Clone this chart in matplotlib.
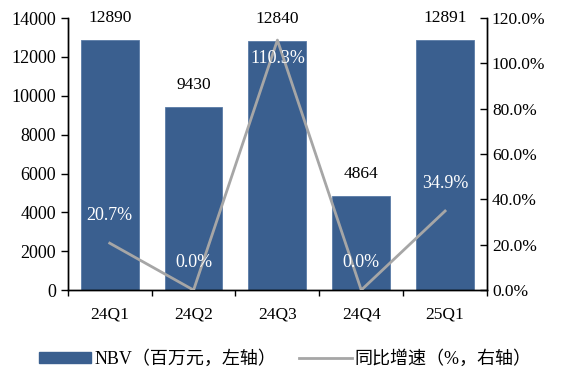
import matplotlib
matplotlib.use("Agg")
import matplotlib.pyplot as plt
from matplotlib.patches import Patch
from matplotlib.lines import Line2D
from matplotlib.ticker import FuncFormatter

quarters = ["24Q1", "24Q2", "24Q3", "24Q4", "25Q1"]
nbv = [12890, 9430, 12840, 4864, 12891]
growth = [20.7, 0.0, 110.3, 0.0, 34.9]

bar_color = "#3A5F8F"
line_color = "#A6A6A6"
serif = ["Liberation Serif", "DejaVu Serif"]
cjk = ["Liberation Serif", "Noto Sans CJK SC"]

fig = plt.figure(figsize=(5.65, 3.7), dpi=100)
ax = fig.add_axes([0.120, 0.216, 0.742, 0.735])
ax2 = ax.twinx()

x = list(range(len(quarters)))
ax.bar(x, nbv, width=0.69, color=bar_color, edgecolor="#5A7BA6", linewidth=0.6, zorder=2)
ax.set_xlim(-0.5, len(quarters) - 0.5)
ax.set_ylim(0, 14000)
ax.set_yticks(range(0, 14001, 2000))

for xi, v in zip(x, nbv):
    ax.annotate(str(v), (xi, v), xytext=(0, 15.5), textcoords="offset points",
                ha="center", va="center", fontsize=12.5, family=serif)

ax2.plot(x, growth, color=line_color, lw=2, zorder=3)
ax2.set_ylim(0, 120)
ax2.set_yticks(range(0, 121, 20))
ax2.yaxis.set_major_formatter(FuncFormatter(lambda v, p: f"{v:.1f}%"))

# growth labels sit above the point, or just under it near the top
for xi, v in zip(x, growth):
    dy = -13 if v > 100 else 20
    ax2.annotate(f"{v:.1f}%", (xi, v), xytext=(0, dy), textcoords="offset points",
                 ha="center", va="center", color="white", fontsize=13,
                 family=serif, zorder=4)

# x ticks sit between categories, labels at the centers
ax.set_xticks([i - 0.5 for i in range(len(quarters) + 1)])
ax.set_xticklabels([])
ax.set_xticks(x, minor=True)
ax.set_xticklabels(quarters, minor=True, fontsize=12.5, family=serif)
ax.tick_params(axis="x", which="minor", length=0, pad=12)
ax.tick_params(axis="x", which="major", direction="out", length=4, width=1)
ax.tick_params(axis="y", direction="out", length=5, width=1, labelsize=13)
ax2.tick_params(axis="y", direction="in", length=5, width=1, labelsize=12.5)
for lab in ax.get_yticklabels() + ax2.get_yticklabels():
    lab.set_family(serif)

for a in (ax, ax2):
    a.spines["top"].set_visible(False)
    for s in ("left", "right", "bottom"):
        a.spines[s].set_linewidth(1)
        a.spines[s].set_color("black")

handles = [Patch(facecolor=bar_color, edgecolor=bar_color),
           Line2D([0], [0], color=line_color, lw=2)]
labels = ["NBV（百万元，左轴）", "同比增速（%，右轴）"]
fig.legend(handles, labels, loc="center", bbox_to_anchor=(0.505, 0.03), ncol=2,
           frameon=False, prop={"family": cjk, "size": 13},
           handlelength=2.9, handleheight=0.6, columnspacing=1.3, handletextpad=0.15)

fig.savefig("out.png", dpi=100)
